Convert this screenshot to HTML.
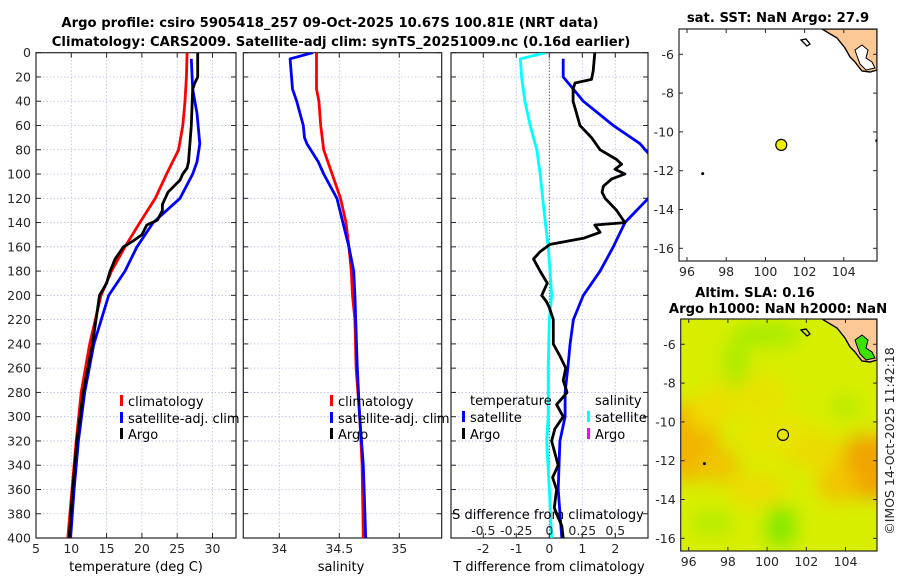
<!DOCTYPE html>
<html><head><meta charset="utf-8"><style>
html,body{margin:0;padding:0;background:#fff;}
svg{display:block;font-family:"DejaVu Sans","Liberation Sans",sans-serif;}
.tk{font-size:12.5px;fill:#262626;}
.tt{font-size:13.2px;font-weight:bold;fill:#000;}
.lg{font-size:13px;fill:#000;}
</style></head><body>
<svg id="fig" width="900" height="580" viewBox="0 0 900 580">
<defs>
<clipPath id="c1"><rect x="36" y="52.7" width="200" height="485.3"/></clipPath>
<clipPath id="c2"><rect x="243.3" y="52.7" width="198.4" height="485.3"/></clipPath>
<clipPath id="c3"><rect x="451" y="52.7" width="197" height="485.3"/></clipPath>
<clipPath id="cm1"><rect x="679" y="29" width="198" height="232"/></clipPath>
<clipPath id="cm2"><rect x="680.7" y="319" width="196.3" height="232"/></clipPath>
<filter id="blur"><feGaussianBlur stdDeviation="9"/></filter>
</defs>
<text class="tt" x="330" y="27" text-anchor="middle">Argo profile: csiro 5905418_257 09-Oct-2025 10.67S 100.81E (NRT data)</text>
<text class="tt" x="341" y="46" text-anchor="middle">Climatology: CARS2009. Satellite-adj clim: synTS_20251009.nc (0.16d earlier)</text>
<g id="g1"></g>
<g id="g2"></g>
<g id="g3"></g>
<g id="m1"></g>
<g id="m2"></g>
<text class="tk" transform="translate(894,441) rotate(-90)" text-anchor="middle" font-size="13">©IMOS 14-Oct-2025 11:42:18</text>
</svg>
<script>
// ---- data ----
const climDepth = [0,20,40,60,80,100,120,140,160,180,200,240,280,320,360,400];
const climT = [26.4,26.3,26.1,25.8,25.2,23.5,21.9,19.7,17.6,15.7,14.2,12.6,11.4,10.7,10.1,9.5];
const satDepth = [5,30,50,75,90,100,120,140,160,180,200,240,280,320,360,400];
const satT = [27.0,27.2,27.8,28.2,27.8,27.2,25.4,21.6,19.3,17.6,15.3,13.2,11.9,11.0,10.4,9.9];
const argoDepth = [0,20,25,30,60,90,95,100,105,115,125,130,138,142,150,155,160,170,180,190,200,240,280,320,360,400];
const argoT = [27.9,27.9,27.5,27.2,27.0,26.6,26.4,25.8,25.4,23.7,22.9,22.9,22.2,20.7,20.0,18.8,17.4,16.2,15.5,15.0,14.0,13.0,11.7,10.8,10.2,9.7];
const climSDepth = [0,30,40,60,80,100,120,140,160,180,200,220,260,300,340,400];
const climS = [34.31,34.31,34.33,34.345,34.37,34.44,34.51,34.556,34.58,34.6,34.61,34.63,34.64,34.67,34.69,34.70];
const satSDepth = [0,5,30,40,60,70,75,90,100,120,140,160,180,200,260,300,340,400];
const satS = [34.28,34.09,34.11,34.145,34.2,34.21,34.23,34.325,34.37,34.48,34.53,34.58,34.62,34.63,34.65,34.67,34.70,34.72];
const satTdiffDepth = [5,20,30,40,60,75,83,100,120,140,160,180,200,220,240,260,280,300,320,360,400];
const satTdiff = [0.42,0.42,0.73,1.03,1.94,2.75,3.0,3.7,3.0,2.29,1.94,1.54,1.03,0.73,0.63,0.56,0.48,0.48,0.32,0.27,0.38];
const argoTdiffDepth = [0,15,22,25,30,40,60,70,80,88,92,96,100,104,110,115,120,130,140,142,148,153,158,164,170,180,190,200,205,210,220,240,250,260,270,280,290,300,310,320,340,350,360,375,380,390,400];
const argoTdiff = [1.38,1.33,1.28,0.78,0.72,0.72,0.93,1.28,1.54,2.04,2.19,1.99,2.29,1.89,1.64,1.6,1.69,2.04,2.29,1.38,1.54,1.03,0.02,-0.28,-0.48,-0.28,-0.06,-0.23,-0.09,0.0,0.12,0.12,0.32,0.5,0.42,0.54,0.22,0.42,0.17,0.07,0.27,0.1,0.22,0.15,0.22,0.38,0.42];
const satSdiffDepth = [0,5,20,40,60,80,100,140,160,180,200,220,260,300,320,360,400];
const satSdiff = [-0.025,-0.22,-0.21,-0.185,-0.145,-0.095,-0.07,-0.03,-0.008,0.005,0.018,0,-0.008,-0.008,-0.02,0,0.018];
const depthTicks = [0,20,40,60,80,100,120,140,160,180,200,220,240,260,280,300,320,340,360,380,400];
const tTicks = [5,10,15,20,25,30];
const sTicks = [34,34.5,35];
const dTicks = [-2,-1,0,1,2];
const sdTicks = [-0.5,-0.25,0,0.25,0.5];
const lonTicks = [96,98,100,102,104];
const latTicks = [-6,-8,-10,-12,-14,-16];
const argoLon = 100.81, argoLat = -10.67;

const NS='http://www.w3.org/2000/svg';
function mk(tag,attrs,parent){const e=document.createElementNS(NS,tag);for(const k in attrs)e.setAttribute(k,attrs[k]);if(parent)parent.appendChild(e);return e;}
const Y0=52.7, YB=538;
const yD = d => Y0 + d*1.2133;
const xT = t => 36 + (t-5)*7.06;
const xS = s => 279.3 + (s-34)*120;
const xTd = v => 549.3 + v*33;
const xSd = v => 549.3 + v*132;

function panel(g,x0,x1,xticks,xf,clip,labelsY){
  for(const d of depthTicks){
    const l=mk('line',{x1:x0,x2:x1,y1:yD(d),y2:yD(d),stroke:'#b8bde6','stroke-width':0.8,'stroke-dasharray':'1.5,2'},g);
    
    
    for(const [a,b] of [[x0,x0+5],[x1,x1-5]]){
      mk('line',{x1:a,x2:b,y1:yD(d),y2:yD(d),stroke:'#262626','stroke-width':1},g);
    }
    if(labelsY){
      const t=mk('text',{x:x0-5,y:yD(d)+4.5,'text-anchor':'end',class:'tk'},g);
      t.textContent=d;
      
      
    }
  }
  for(const v of xticks){
    const x=xf(v);
    const l=mk('line',{x1:x,x2:x,y1:Y0,y2:YB,stroke:'#b8bde6','stroke-width':0.8,'stroke-dasharray':'1.5,2'},g);
    
    
    mk('line',{x1:x,x2:x,y1:YB,y2:YB-5,stroke:'#262626'},g);
    mk('line',{x1:x,x2:x,y1:Y0,y2:Y0+5,stroke:'#262626'},g);
    const t=mk('text',{x:x,y:553,'text-anchor':'middle',class:'tk'},g);
    t.textContent=v;
    
    
  }
  const f=mk('rect',{x:x0,y:Y0,width:x1-x0,height:YB-Y0,fill:'none',stroke:'#262626','stroke-width':1.2},g);
  
  
}
function line(g,depths,vals,xf,color,clip,name){
  const pts=depths.map((d,i)=>xf(vals[i]).toFixed(1)+','+yD(d).toFixed(1)).join(' ');
  const p=mk('polyline',{points:pts,fill:'none',stroke:color,'stroke-width':2.8,'stroke-linejoin':'round','clip-path':'url(#'+clip+')'},g);
  
  
}
function txt(g,x,y,s,cls,name,anchor){
  const t=mk('text',{x:x,y:y,class:cls,'text-anchor':anchor||'start'},g);
  t.textContent=s;
  
  
  return t;
}
function legMark(g,x,y,color,name){
  const r=mk('rect',{x:x,y:y-11,width:3,height:11,fill:color},g);
  
  
}

// panel 1
const g1=document.getElementById('g1');
panel(g1,36,236,tTicks,xT,'c1',true);
line(g1,climDepth,climT,xT,'#ff0000','c1','climatology-temperature-line');
line(g1,satDepth,satT,xT,'#0000ff','c1','satellite-temperature-line');
line(g1,argoDepth,argoT,xT,'#000000','c1','argo-temperature-line');
txt(g1,136,571,'temperature (deg C)','lg','x-axis-title-temperature','middle');
legMark(g1,120,406,'#ff0000','legend-marker-climatology');
txt(g1,128,406,'climatology','lg','legend-entry-climatology');
legMark(g1,120,423,'#0000ff','legend-marker-satellite');
txt(g1,128,423,'satellite-adj. clim','lg','legend-entry-satellite');
legMark(g1,120,439,'#000','legend-marker-argo');
txt(g1,128,439,'Argo','lg','legend-entry-argo');

// panel 2
const g2=document.getElementById('g2');
panel(g2,243.3,441.7,sTicks,xS,'c2',false);
line(g2,climSDepth,climS,xS,'#ff0000','c2','climatology-salinity-line');
line(g2,satSDepth,satS,xS,'#0000ff','c2','satellite-salinity-line');
txt(g2,341,571,'salinity','lg','x-axis-title-salinity','middle');
legMark(g2,330,406,'#ff0000','legend-marker-climatology');
txt(g2,338,406,'climatology','lg','legend-entry-climatology');
legMark(g2,330,423,'#0000ff','legend-marker-satellite');
txt(g2,338,423,'satellite-adj. clim','lg','legend-entry-satellite');
legMark(g2,330,439,'#000','legend-marker-argo');
txt(g2,338,439,'Argo','lg','legend-entry-argo');

// panel 3
const g3=document.getElementById('g3');
panel(g3,451,648,dTicks,xTd,'c3',false);
const zl=mk('line',{x1:xTd(0),x2:xTd(0),y1:Y0,y2:YB,stroke:'#333','stroke-width':1,'stroke-dasharray':'1,2'},g3);


line(g3,satSdiffDepth,satSdiff,xSd,'#00ffff','c3','satellite-salinity-diff-line');
line(g3,satTdiffDepth,satTdiff,xTd,'#0000ff','c3','satellite-temperature-diff-line');
line(g3,argoTdiffDepth,argoTdiff,xTd,'#000000','c3','argo-temperature-diff-line');
txt(g3,549,571,'T difference from climatology','lg','x-axis-title-tdiff','middle');
txt(g3,548,519,'S difference from climatology','lg','s-axis-title','middle');
for(const v of sdTicks){txt(g3,xSd(v),535,String(v),'tk','s-tick-label','middle');}
txt(g3,470,405,'temperature','lg','legend-title-temperature');
legMark(g3,462,422,'#0000ff','legend-marker-t-satellite');
txt(g3,470,422,'satellite','lg','legend-entry-t-satellite');
legMark(g3,462,439,'#000','legend-marker-t-argo');
txt(g3,470,439,'Argo','lg','legend-entry-t-argo');
txt(g3,595,405,'salinity','lg','legend-title-salinity');
legMark(g3,587,422,'#00ffff','legend-marker-s-satellite');
txt(g3,595,422,'satellite','lg','legend-entry-s-satellite');
legMark(g3,587,439,'#ff00ff','legend-marker-s-argo');
txt(g3,595,439,'Argo','lg','legend-entry-s-argo');

// maps
function map(g,bx0,by0,bx1,by1,latTop,clip,field){
  const lx = lon => 687 + (lon-96)*19.6 + (bx0-679);
  const ly = lat => latTop + (-6-lat)*19.4;
  const bg=mk('rect',{x:bx0,y:by0,width:bx1-bx0,height:by1-by0,fill:'#fff'},g);
  
  
  const cg=mk('g',{'clip-path':'url(#'+clip+')'},g);
  if(field){
    mk('rect',{x:bx0,y:by0,width:bx1-bx0,height:by1-by0,fill:'#d8ee00'},cg);
    const fg=mk('g',{filter:'url(#blur)'},cg);
    const blobs=[[96,-11,30,40,'#f2b400'],[97.5,-12.2,22,18,'#f0c400'],[105.2,-12.3,38,32,'#f0a400'],[103.6,-13.2,20,18,'#f3c400'],[99,-8.5,40,20,'#e8e200'],[100.5,-10.7,40,25,'#e6e600'],[98.4,-7,12,25,'#a8ec00'],[100,-5.5,35,12,'#a6ec00'],[100.7,-15.4,16,22,'#88e800'],[97.2,-15.2,22,12,'#b4ec00'],[104,-9.2,14,10,'#b0ea00'],[102.5,-11.5,30,20,'#eadc00'],[97,-9.5,20,18,'#eedc00'],[99.5,-13.5,30,16,'#ecdc00']];
    for(const b of blobs){mk('ellipse',{cx:lx(b[0]),cy:ly(b[1]),rx:b[2],ry:b[3],fill:b[4]},fg);}
  }
  const land=mk('polygon',{points:[[822,29],[877,29],[877,70],[870,72],[862,71],[858,66],[855,62],[850,57],[845,48],[837,38]].map(p=>p[0]+','+(p[1]-29+by0)).join(' '),fill:'#fcc896',stroke:'#000','stroke-width':1.4},cg);
  
  
  mk('polygon',{points:[[855,50],[862,45],[868,50],[866,58],[872,62],[875,68],[866,70],[860,64],[857,56]].map(p=>p[0]+','+(p[1]-29+by0)).join(' '),fill:field?'#3ee000':'#fff',stroke:'#000','stroke-width':1},cg);
  mk('polygon',{points:[[801,40],[806,39],[810,44],[807,46]].map(p=>p[0]+','+(p[1]-29+by0)).join(' '),fill:'none',stroke:'#000','stroke-width':1.3},cg);
  mk('circle',{cx:lx(96.8),cy:ly(-12.15),r:1.5,fill:'#000'},cg);
  mk('circle',{cx:lx(105.7),cy:ly(-10.45),r:1.8,fill:'#000'},cg);
  const mk1=mk('circle',{cx:lx(argoLon),cy:ly(argoLat),r:5.5,fill:field?'none':'#eeee00',stroke:'#000','stroke-width':1.2},g);
  
  
  for(const lon of lonTicks){
    mk('line',{x1:lx(lon),x2:lx(lon),y1:by1,y2:by1-4,stroke:'#262626'},g);
    mk('line',{x1:lx(lon),x2:lx(lon),y1:by0,y2:by0+4,stroke:'#262626'},g);
    txt(g,lx(lon),by1+15,String(lon),'tk','map-lon-label','middle');
  }
  for(const lat of latTicks){
    mk('line',{x1:bx0,x2:bx0+4,y1:ly(lat),y2:ly(lat),stroke:'#262626'},g);
    mk('line',{x1:bx1,x2:bx1-4,y1:ly(lat),y2:ly(lat),stroke:'#262626'},g);
    txt(g,bx0-5,ly(lat)+4.5,String(lat),'tk','map-lat-label','end');
  }
  const fr=mk('rect',{x:bx0,y:by0,width:bx1-bx0,height:by1-by0,fill:'none',stroke:'#262626','stroke-width':1.2},g);
  
  
}
const m1=document.getElementById('m1');
map(m1,679,29,877,261,54.3,'cm1',false);
txt(m1,778,22,'sat. SST: NaN Argo: 27.9','tt','sst-map-title','middle');
const m2=document.getElementById('m2');
map(m2,680.7,319,877,551,344.3,'cm2',true);
txt(m2,755,297,'Altim. SLA: 0.16','tt','sla-map-title','middle');
txt(m2,778,313,'Argo h1000: NaN h2000: NaN','tt','sla-map-subtitle','middle');
</script>
</body></html>
